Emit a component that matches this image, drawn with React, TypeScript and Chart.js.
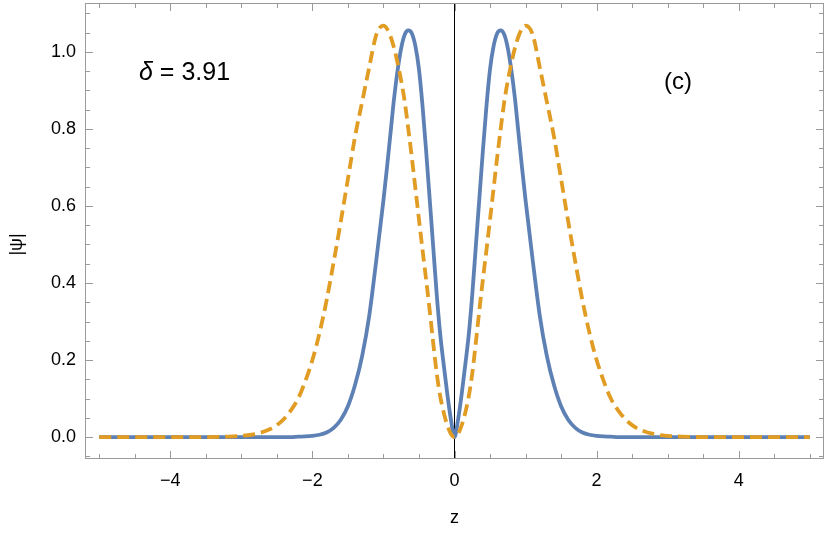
import React, { useEffect, useRef } from "react";
import { Chart, registerables } from "chart.js";

Chart.register(...registerables);

const zValues = [
  -5, -4, -3.5, -3.2, -3, -2.8, -2.6, -2.5, -2.4, -2.3, -2.2, -2.1, -2, -1.9, -1.8, -1.7, -1.6, -1.5, -1.4, -1.3, -1.2, -1.1,
  -1, -0.95, -0.9, -0.85, -0.8, -0.75, -0.7, -0.65, -0.6, -0.55, -0.5, -0.45, -0.4, -0.35, -0.3, -0.25, -0.2, -0.15, -0.1, -0.05,
  0,
  0.05, 0.1, 0.15, 0.2, 0.25, 0.3, 0.35, 0.4, 0.45, 0.5, 0.55, 0.6, 0.65, 0.7, 0.75, 0.8, 0.85, 0.9, 0.95, 1,
  1.1, 1.2, 1.3, 1.4, 1.5, 1.6, 1.7, 1.8, 1.9, 2, 2.1, 2.2, 2.3, 2.4, 2.5, 2.6, 2.8, 3, 3.2, 3.5, 4, 5,
];

const blueValues = [
  0, 0, 0, 0, 0, 0, 0, 0, 0, 0, 0.001, 0.0015, 0.003, 0.006, 0.012, 0.024, 0.045, 0.08, 0.135, 0.21, 0.315, 0.46,
  0.615, 0.7, 0.79, 0.88, 0.953, 1.01, 1.045, 1.056, 1.048, 1.015, 0.955, 0.86, 0.745, 0.62, 0.495, 0.37, 0.265, 0.185, 0.11, 0.045,
  0,
  0.045, 0.11, 0.185, 0.265, 0.37, 0.495, 0.62, 0.745, 0.86, 0.955, 1.015, 1.048, 1.056, 1.045, 1.01, 0.953, 0.88, 0.79, 0.7, 0.615,
  0.46, 0.315, 0.21, 0.135, 0.08, 0.045, 0.024, 0.012, 0.006, 0.003, 0.0015, 0.001, 0, 0, 0, 0, 0, 0, 0, 0, 0, 0,
];

const orangeValues = [
  0, 0, 0, 0.001, 0.003, 0.008, 0.02, 0.031, 0.047, 0.07, 0.1, 0.145, 0.2, 0.27, 0.355, 0.455, 0.56, 0.67, 0.78, 0.87, 0.96, 1.045,
  1.068, 1.06, 1.04, 1.01, 0.97, 0.925, 0.87, 0.8, 0.725, 0.645, 0.565, 0.486, 0.41, 0.33, 0.245, 0.165, 0.105, 0.062, 0.03, 0.008,
  0,
  0.008, 0.03, 0.062, 0.105, 0.165, 0.245, 0.33, 0.41, 0.486, 0.565, 0.645, 0.725, 0.8, 0.87, 0.925, 0.97, 1.01, 1.04, 1.06, 1.068,
  1.045, 0.96, 0.87, 0.78, 0.67, 0.56, 0.455, 0.355, 0.27, 0.2, 0.145, 0.1, 0.07, 0.047, 0.031, 0.02, 0.008, 0.003, 0.001, 0, 0, 0,
];

const xMajorTicks = [-4, -2, 0, 2, 4];
const xMinorTicks = [-5, -4.5, -3.5, -3, -2.5, -1.5, -1, -0.5, 0.5, 1, 1.5, 2.5, 3, 3.5, 4.5, 5];
const yMajorTicks = [0, 0.2, 0.4, 0.6, 0.8, 1.0];
const yMinorTicks = [-0.05, 0.05, 0.1, 0.15, 0.25, 0.3, 0.35, 0.45, 0.5, 0.55, 0.65, 0.7, 0.75, 0.85, 0.9, 0.95, 1.05, 1.1];

const xMin = -5.2;
const xMax = 5.2;
const yMin = -0.057;
const yMax = 1.127;

const BLUE = "#5E81B5";
const ORANGE = "#E19C24";
const FRAME = "#9a9a9a";
const FONT = "'Liberation Sans', Arial, sans-serif";

const framePlugin = {
  id: "framePlugin",
  afterDraw(chart: any) {
    const { ctx, chartArea } = chart;
    const xs = chart.scales.x;
    const ys = chart.scales.y;
    const { left, right, top, bottom } = chartArea;
    ctx.save();
    ctx.strokeStyle = FRAME;
    ctx.lineWidth = 1;
    ctx.strokeRect(left + 0.5, top + 0.5, right - left - 1, bottom - top - 1);
    const drawX = (v: number, len: number) => {
      const px = Math.round(xs.getPixelForValue(v)) + 0.5;
      ctx.beginPath();
      ctx.moveTo(px, bottom);
      ctx.lineTo(px, bottom - len);
      ctx.moveTo(px, top);
      ctx.lineTo(px, top + len);
      ctx.stroke();
    };
    const drawY = (v: number, len: number) => {
      const py = Math.round(ys.getPixelForValue(v)) + 0.5;
      ctx.beginPath();
      ctx.moveTo(left, py);
      ctx.lineTo(left + len, py);
      ctx.moveTo(right, py);
      ctx.lineTo(right - len, py);
      ctx.stroke();
    };
    xMajorTicks.forEach((v) => drawX(v, 8));
    xMinorTicks.forEach((v) => drawX(v, 5));
    yMajorTicks.forEach((v) => drawY(v, 8));
    yMinorTicks.forEach((v) => drawY(v, 5));

    ctx.fillStyle = "#000";
    ctx.textAlign = "center";
    ctx.textBaseline = "middle";
    ctx.font = `18px ${FONT}`;
    ctx.fillText("z", xs.getPixelForValue(0), 518);
    ctx.save();
    ctx.translate(17, ys.getPixelForValue(0.5));
    ctx.rotate(-Math.PI / 2);
    ctx.fillText("|ψ|", 0, 0);
    ctx.restore();

    ctx.textAlign = "left";
    ctx.textBaseline = "alphabetic";
    ctx.font = `italic 25px ${FONT}`;
    ctx.fillText("δ", 139, 80);
    const dw = ctx.measureText("δ").width;
    ctx.font = `25px ${FONT}`;
    ctx.fillText(" = 3.91", 139 + dw, 80);
    ctx.font = `24px ${FONT}`;
    ctx.textAlign = "center";
    ctx.fillText("(c)", 678, 89);
    ctx.restore();
  },
};

export default function App() {
  const ref = useRef<HTMLCanvasElement>(null);
  useEffect(() => {
    if (!ref.current) return;
    const chart = new Chart(ref.current, {
      type: "line",
      data: {
        datasets: [
          {
            label: "orange",
            data: zValues.map((z, i) => ({ x: z, y: orangeValues[i] })),
            borderColor: ORANGE,
            borderWidth: 3.8,
            borderDash: [12, 6],
            pointRadius: 0,
            fill: false,
            cubicInterpolationMode: "monotone",
          },
          {
            label: "blue",
            data: zValues.map((z, i) => ({ x: z, y: blueValues[i] })),
            borderColor: BLUE,
            borderWidth: 3.8,
            pointRadius: 0,
            fill: false,
            cubicInterpolationMode: "monotone",
          },
          {
            label: "axis",
            data: [
              { x: 0, y: yMin },
              { x: 0, y: yMax },
            ],
            borderColor: "#000",
            borderWidth: 1,
            pointRadius: 0,
            fill: false,
          },
        ],
      },
      options: {
        responsive: false,
        animation: false,
        devicePixelRatio: 1,
        layout: { padding: { top: 3, right: 6, left: 0, bottom: 0 } },
        plugins: { legend: { display: false }, tooltip: { enabled: false } },
        scales: {
          x: {
            type: "linear",
            min: xMin,
            max: xMax,
            afterBuildTicks: (s: any) => {
              s.ticks = xMajorTicks.map((v) => ({ value: v }));
            },
            afterFit: (s: any) => {
              s.height = 84;
              s.paddingLeft = 0;
              s.paddingRight = 0;
            },
            grid: { display: false, drawTicks: false },
            border: { display: false },
            ticks: {
              padding: 11,
              color: "#000",
              font: { family: FONT, size: 18 },
              maxRotation: 0,
              callback: (v: any) => (v < 0 ? "\u2212" + Math.abs(v) : String(v)),
            },
          },
          y: {
            type: "linear",
            min: yMin,
            max: yMax,
            afterBuildTicks: (s: any) => {
              s.ticks = yMajorTicks.map((v) => ({ value: v }));
            },
            afterFit: (s: any) => {
              s.width = 85;
              s.paddingTop = 0;
              s.paddingBottom = 0;
            },
            grid: { display: false, drawTicks: false },
            border: { display: false },
            ticks: {
              padding: 9,
              color: "#000",
              font: { family: FONT, size: 18 },
              callback: (v: any) => Number(v).toFixed(1),
            },
          },
        },
      },
      plugins: [framePlugin],
    });
    return () => chart.destroy();
  }, []);
  return (
    <div style={{ position: "absolute", left: 0, top: 0, width: 830, height: 543, background: "#fff" }}>
      <canvas ref={ref} width={830} height={543} style={{ display: "block" }} />
    </div>
  );
}
